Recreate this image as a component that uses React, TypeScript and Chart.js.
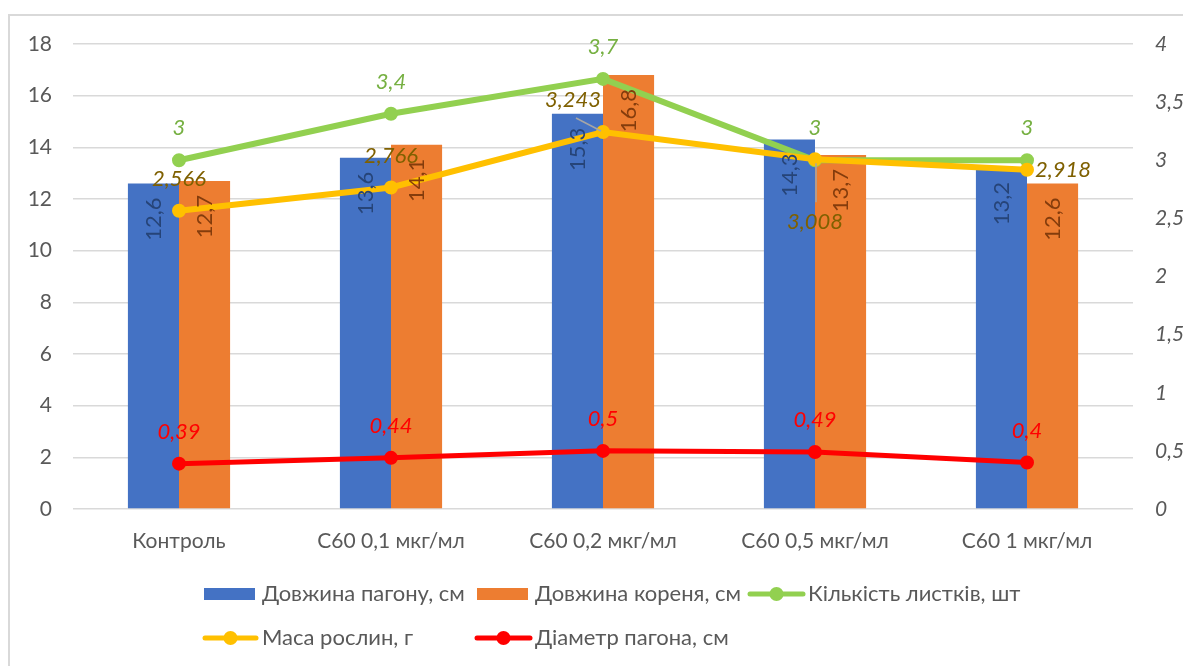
import React, { useEffect, useRef } from "react";
import { Chart, registerables } from "chart.js";

Chart.register(...registerables);

// ---- data ----
const categories = ["Контроль", "С60 0,1 мкг/мл", "С60 0,2 мкг/мл", "С60 0,5 мкг/мл", "С60 1 мкг/мл"];
const shootLength = [12.6, 13.6, 15.3, 14.3, 13.2];
const rootLength = [12.7, 14.1, 16.8, 13.7, 12.6];
const leafCount = [3, 3.4, 3.7, 3, 3];
const plantMass = [2.566, 2.766, 3.243, 3.008, 2.918];
const shootDiameter = [0.39, 0.44, 0.5, 0.49, 0.4];

const seriesNames = [
  "Довжина пагону, см",
  "Довжина кореня, см",
  "Кількість листків, шт",
  "Маса рослин, г",
  "Діаметр пагона, см",
];

const leftAxisMax = 18;
const leftAxisStep = 2;
const rightAxisMax = 4;
const rightAxisStep = 0.5;

// ---- styling ----
const FONT = "Lato, 'Open Sans', sans-serif";
const TEXT = "#595959";
const GRID = "#d9d9d9";
const BLUE = "#4472C4";
const ORANGE = "#ED7D31";
const GREEN = "#92D050";
const GOLD = "#FFC000";
const RED = "#FF0000";

// where the value label of each mass point sits relative to the marker
const massLabelPlacement = ["above", "above", "aboveLeft", "below", "right"];

const fmt = (v: number) => String(v).replace(".", ",");

type LineLabelCfg = { color: string; placement?: string[] };

const lineLabelCfg: Record<number, LineLabelCfg> = {
  2: { color: "#76B042" },
  3: { color: "#7F6000", placement: massLabelPlacement },
  4: { color: "#FF0000" },
};

const barLabelColor: Record<number, string> = {
  0: "#264478",
  1: "#843C0C",
};

const valueLabels = {
  id: "valueLabels",
  afterDatasetsDraw(chart: any) {
    const ctx: CanvasRenderingContext2D = chart.ctx;
    chart.data.datasets.forEach((ds: any, di: number) => {
      const meta = chart.getDatasetMeta(di);
      meta.data.forEach((el: any, i: number) => {
        const v = ds.data[i] as number;
        const text = fmt(v);
        const { x, y } = el.getProps(["x", "y"], true);
        ctx.save();
        if (barLabelColor[di]) {
          ctx.fillStyle = barLabelColor[di];
          ctx.font = `22px ${FONT}`;
          ctx.translate(x, y + 14);
          ctx.rotate(-Math.PI / 2);
          ctx.textAlign = "right";
          ctx.textBaseline = "middle";
          ctx.fillText(text, 0, 0);
        } else {
          const cfg = lineLabelCfg[di];
          const place = cfg.placement ? cfg.placement[i] : "above";
          ctx.fillStyle = cfg.color;
          ctx.font = `italic 22px ${FONT}`;
          ctx.textBaseline = "middle";
          ctx.textAlign = "center";
          let lx = x;
          let ly = y - 32;
          if (place === "aboveLeft") {
            lx = x - 30;
            ctx.strokeStyle = "#a6a6a6";
            ctx.lineWidth = 1.5;
            ctx.beginPath();
            ctx.moveTo(x - 27, y - 14);
            ctx.lineTo(x - 2, y - 1);
            ctx.stroke();
          } else if (place === "below") {
            ly = y + 63;
            ctx.strokeStyle = "#a6a6a6";
            ctx.lineWidth = 1.5;
            ctx.beginPath();
            ctx.moveTo(x + 1, y + 4);
            ctx.lineTo(x + 1, y + 43);
            ctx.stroke();
          } else if (place === "right") {
            ctx.textAlign = "left";
            lx = x + 8;
            ly = y;
          }
          ctx.fillText(text, lx, ly);
        }
        ctx.restore();
      });
    });
  },
};

// legend laid out in fixed columns beneath the plot
const legendGrid = {
  id: "legendGrid",
  afterDraw(chart: any) {
    const ctx: CanvasRenderingContext2D = chart.ctx;
    const items = [
      { kind: "box", color: BLUE, mx: 194, mw: 51, tx: 252, ty: 578, text: seriesNames[0] },
      { kind: "box", color: ORANGE, mx: 467, mw: 51, tx: 525, ty: 578, text: seriesNames[1] },
      { kind: "line", color: GREEN, mx: 738, mw: 57, tx: 798, ty: 578, text: seriesNames[2] },
      { kind: "line", color: GOLD, mx: 193, mw: 55, tx: 252, ty: 622, text: seriesNames[3] },
      { kind: "line", color: RED, mx: 465, mw: 57, tx: 525, ty: 622, text: seriesNames[4] },
    ];
    ctx.save();
    for (const it of items) {
      if (it.kind === "box") {
        ctx.fillStyle = it.color;
        ctx.fillRect(it.mx, it.ty - 6, it.mw, 12);
      } else {
        ctx.strokeStyle = it.color;
        ctx.lineWidth = 5;
        ctx.lineCap = "round";
        ctx.beginPath();
        ctx.moveTo(it.mx + 2, it.ty);
        ctx.lineTo(it.mx + it.mw - 2, it.ty);
        ctx.stroke();
        ctx.fillStyle = it.color;
        ctx.beginPath();
        ctx.arc(it.mx + it.mw / 2, it.ty, 7, 0, Math.PI * 2);
        ctx.fill();
      }
      ctx.fillStyle = TEXT;
      ctx.font = `22px ${FONT}`;
      ctx.textAlign = "left";
      ctx.textBaseline = "middle";
      ctx.fillText(it.text, it.tx, it.ty);
    }
    ctx.restore();
  },
};

const lineDataset = (label: string, data: number[], color: string, width: number, order: number) => ({
  type: "line" as const,
  label,
  data,
  yAxisID: "y1",
  borderColor: color,
  backgroundColor: color,
  borderWidth: width,
  pointRadius: 6,
  pointBorderWidth: 2,
  pointBackgroundColor: color,
  pointBorderColor: color,
  tension: 0,
  order,
});

// vertical axes: fixed width, and no extra label overhang at the top/bottom
const fitVertical = (width: number) => (s: any) => {
  s.width = width;
  s.paddingTop = 0;
  s.paddingBottom = 0;
};

export default function App() {
  const canvasRef = useRef<HTMLCanvasElement | null>(null);

  useEffect(() => {
    if (!canvasRef.current) return;
    const chart = new Chart(canvasRef.current, {
      type: "bar",
      data: {
        labels: categories,
        datasets: [
          {
            type: "bar",
            label: seriesNames[0],
            data: shootLength,
            backgroundColor: BLUE,
            yAxisID: "y",
            categoryPercentage: 0.482,
            barPercentage: 1,
            order: 10,
          },
          {
            type: "bar",
            label: seriesNames[1],
            data: rootLength,
            backgroundColor: ORANGE,
            yAxisID: "y",
            categoryPercentage: 0.482,
            barPercentage: 1,
            order: 11,
          },
          lineDataset(seriesNames[2], leafCount, GREEN, 6, 3),
          lineDataset(seriesNames[3], plantMass, GOLD, 6, 2),
          lineDataset(seriesNames[4], shootDiameter, RED, 5, 1),
        ] as any,
      },
      options: {
        responsive: false,
        animation: false,
        devicePixelRatio: 1,
        layout: { padding: { top: 28, left: 0, right: 0, bottom: 0 } },
        plugins: {
          legend: { display: false },
          tooltip: { enabled: false },
        },
        scales: {
          x: {
            grid: { display: false, drawTicks: false },
            border: { display: false },
            ticks: { color: TEXT, font: { family: FONT, size: 21 }, padding: 20, maxRotation: 0 },
            afterFit: (s: any) => {
              s.height = 157;
            },
          },
          y: {
            position: "left",
            min: 0,
            max: leftAxisMax,
            ticks: { stepSize: leftAxisStep, color: TEXT, font: { family: FONT, size: 21 }, padding: 21 },
            grid: { color: GRID, lineWidth: 1.5, drawTicks: false },
            border: { display: false },
            afterFit: fitVertical(63),
          },
          y1: {
            position: "right",
            min: 0,
            max: rightAxisMax,
            ticks: {
              stepSize: rightAxisStep,
              color: TEXT,
              font: { family: FONT, size: 21, style: "italic" },
              padding: 22,
              callback: (v: any) => fmt(Number(v)),
            },
            grid: { display: false, drawTicks: false },
            border: { display: false },
            afterFit: fitVertical(58),
          },
        },
      } as any,
      plugins: [valueLabels, legendGrid],
    });
    return () => chart.destroy();
  }, []);

  return (
    <div style={{ width: 1183, height: 658, overflow: "hidden", position: "relative" }}>
      <div
        style={{
          position: "absolute",
          left: 0,
          top: 6,
          width: 1240,
          height: 720,
          border: `2px solid ${GRID}`,
          background: "#fff",
        }}
      >
        <canvas ref={canvasRef} width={1181} height={650} style={{ display: "block" }} />
      </div>
    </div>
  );
}
